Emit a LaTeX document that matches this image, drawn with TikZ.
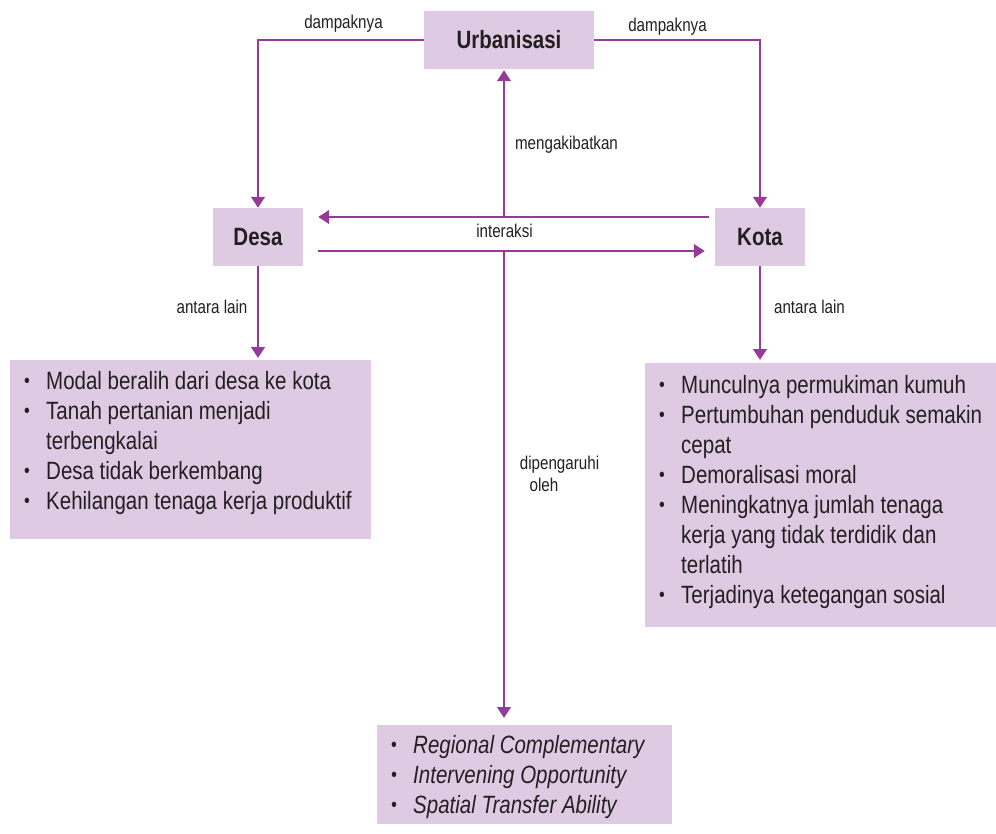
\documentclass[tikz,border=0pt]{standalone}
\usepackage{fontspec}
\setmainfont{Liberation Sans}[FakeStretch=0.82]
\usetikzlibrary{arrows.meta}

\definecolor{boxfill}{HTML}{DFCAE3}
\definecolor{linkcol}{HTML}{963A98}
\definecolor{ink}{HTML}{231F20}

% one bulleted entry; continuation lines hang under the text
\newcommand\bulletmark{\makebox[22pt][l]{\raisebox{1.5pt}{\fontsize{20}{20}\selectfont •}}}
\newcommand\entry[1]{\hangindent=22pt\hangafter=1\noindent\bulletmark#1\par}
% list panel body: width, height, top gap, entries
\newcommand\panelbody[4]{\parbox[t][#2][t]{#1}{\leftskip=14pt\rightskip=-40pt plus 1fil
  \parfillskip=0pt plus 1fil\vspace*{#3}#4}}

\begin{document}
\begin{tikzpicture}[x=1pt,y=-1pt,
  hub/.style={fill=boxfill, text=ink, inner sep=0pt,
    font=\fontsize{25}{30}\selectfont\bfseries},
  panel/.style={fill=boxfill, text=ink, inner sep=0pt, anchor=north west,
    font=\fontsize{25}{30}\selectfont},
  link/.style={draw=linkcol, line width=2.7pt,
    -{Triangle[width=13.5pt,length=11pt]}},
  tag/.style={text=ink, inner sep=0pt, anchor=base,
    font=\fontsize{18.5}{22}\selectfont}]

\useasboundingbox (0,0) rectangle (996,834);

% main boxes
\node[hub, minimum width=170pt, minimum height=58pt] (urb)  at (509,40)  {Urbanisasi};
\node[hub, minimum width=90pt,  minimum height=58pt] (desa) at (258,237) {Desa};
\node[hub, minimum width=90pt,  minimum height=58pt] (kota) at (760,237) {Kota};

% list panels
\node[panel] (dlist) at (10,360) {\panelbody{361pt}{179pt}{11pt}{%
  \entry{Modal beralih dari desa ke kota}
  \entry{Tanah pertanian menjadi\\terbengkalai}
  \entry{Desa tidak berkembang}
  \entry{Kehilangan tenaga kerja produktif}}};

\node[panel] (klist) at (645,363) {\panelbody{351pt}{264pt}{12pt}{%
  \entry{Munculnya permukiman kumuh}
  \entry{Pertumbuhan penduduk semakin\\cepat}
  \entry{Demoralisasi moral}
  \entry{Meningkatnya jumlah tenaga\\kerja yang tidak terdidik dan\\terlatih}
  \entry{Terjadinya ketegangan sosial}}};

\node[panel] (blist) at (377,725) {\panelbody{295pt}{99pt}{10pt}{%
  \entry{\itshape Regional Complementary}
  \entry{\itshape Intervening Opportunity}
  \entry{\itshape Spatial Transfer Ability}}};

% junction points on the two interaction lines
\coordinate (iaTop) at (504,217);
\coordinate (iaBot) at (504,251);

% connectors
\draw[link] (urb.west) -| (desa.north);
\draw[link] (urb.east) -| (kota.north);
\draw[link] ([xshift=-6pt]kota.west |- iaTop) -- ([xshift=15pt]desa.east |- iaTop);
\draw[link] ([xshift=15pt]desa.east |- iaBot) -- ([xshift=-10pt]kota.west |- iaBot);
\draw[link, shorten >=1pt] (iaTop) -- (iaTop |- urb.south);
\draw[link, shorten >=7pt] (iaBot) -- (iaBot |- blist.north);
\draw[link, shorten >=2pt] (desa.south) -- (desa.south |- dlist.north);
\draw[link, shorten >=3pt] (kota.south) -- (kota.south |- klist.north);

% connector labels
\node[tag] (lbA) at (343.5,29) {dampaknya};
\node[tag] (lbB) at (667.5,32) {dampaknya};
\node[tag] (lbC) at (566.5,150) {mengakibatkan};
\node[tag] (lbD) at (504.5,238) {interaksi};
\node[tag] (lbE) at (212,313) {antara lain};
\node[tag] (lbF) at (809.5,313) {antara lain};
\node[tag] (lbG) at (559.5,469) {dipengaruhi};
\node[tag] (lbH) at (544,491) {oleh};
\end{tikzpicture}
\end{document}
